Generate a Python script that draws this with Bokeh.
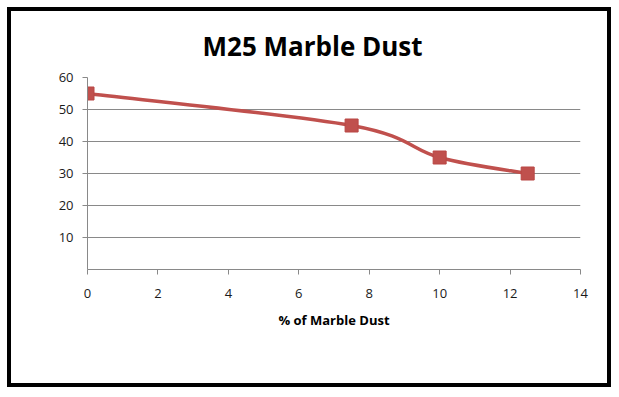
from bokeh.plotting import figure
from bokeh.models import (Range1d, FixedTicker, Legend, LegendItem, Title)
from bokeh.embed import file_html
from bokeh.resources import INLINE

# Data
pct_marble = [0, 7.5, 10, 12.5]
strength = [55, 45, 35, 30]
x_ticks = [0, 2, 4, 6, 8, 10, 12, 14]
y_ticks = [10, 20, 30, 40, 50, 60]
title_text = "M25 Marble Dust"
x_label = "% of Marble Dust"

RED = "#C0504D"
GRID = "#898989"
FONT = "Open Sans"

p = figure(frame_width=493, frame_height=192, output_backend="svg",
           toolbar_location=None,
           x_range=Range1d(0, 14), y_range=Range1d(0, 60),
           min_border_left=76, min_border_right=27, min_border_top=66,
           min_border_bottom=114)
p.styles = {"border": "4px solid black", "transform": "translate(7px, 7px)"}
p.outline_line_color = None
p.background_fill_color = "white"
p.border_fill_color = "white"

t = Title(text=title_text, align="left", text_font=FONT, text_font_size="26px",
          text_font_style="bold", text_color="black", standoff=28, offset=115)
p.add_layout(t, "above")

# axes
p.xaxis.ticker = FixedTicker(ticks=x_ticks)
p.yaxis.ticker = FixedTicker(ticks=y_ticks)
for ax in (p.xaxis[0], p.yaxis[0]):
    ax.axis_line_color = GRID
    ax.axis_line_width = 1
    ax.major_tick_line_color = GRID
    ax.major_tick_in = 0
    ax.major_tick_out = 5
    ax.minor_tick_line_color = None
    ax.major_label_text_font = FONT
    ax.major_label_text_font_size = "13px"
    ax.major_label_text_color = "#1a1a1a"
p.xaxis.major_label_standoff = 14
p.yaxis.major_label_standoff = 9
p.xaxis.axis_label = x_label
p.xaxis.axis_label_text_font = FONT
p.xaxis.axis_label_text_font_size = "13px"
p.xaxis.axis_label_text_font_style = "bold"
p.xaxis.axis_label_text_color = "black"
p.xaxis.axis_label_standoff = 10

p.xgrid.grid_line_color = None
p.ygrid.grid_line_color = GRID
p.ygrid.grid_line_width = 1

# smoothed line (Catmull-Rom style bezier through the data points)
n = len(pct_marble)
x0, y0, x1, y1, cx0, cy0, cx1, cy1 = [], [], [], [], [], [], [], []
for i in range(n - 1):
    pm = max(i - 1, 0)
    pp = min(i + 2, n - 1)
    x0.append(pct_marble[i]); y0.append(strength[i])
    x1.append(pct_marble[i + 1]); y1.append(strength[i + 1])
    cx0.append(pct_marble[i] + (pct_marble[i + 1] - pct_marble[pm]) / 6)
    cy0.append(strength[i] + (strength[i + 1] - strength[pm]) / 6)
    cx1.append(pct_marble[i + 1] - (pct_marble[pp] - pct_marble[i]) / 6)
    cy1.append(strength[i + 1] - (strength[pp] - strength[i]) / 6)

bez = p.bezier(x0=x0, y0=y0, x1=x1, y1=y1, cx0=cx0, cy0=cy0, cx1=cx1, cy1=cy1,
               line_color=RED, line_width=3.5)
sc = p.scatter(pct_marble, strength, marker="square", size=13,
               fill_color=RED, line_color="#B94744", line_width=1)

legend = Legend(items=[LegendItem(label=" ", renderers=[bez, sc])],
                location=(166, -102), orientation="horizontal",
                glyph_width=31, glyph_height=20, padding=0, margin=0,
                border_line_color=None, background_fill_alpha=0,
                label_text_font_size="11px", label_standoff=0)
p.add_layout(legend, "center")

open("out.html", "w").write(file_html(p, INLINE))
